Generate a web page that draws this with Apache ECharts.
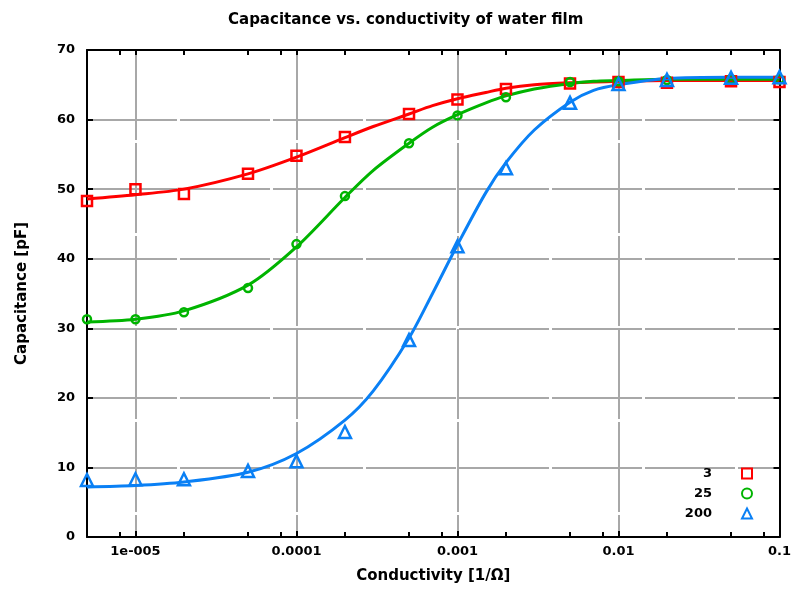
<!DOCTYPE html>
<html>
<head>
<meta charset="utf-8">
<script src="https://cdn.jsdelivr.net/npm/echarts@6/dist/echarts.min.js"></script>
<style>
  html, body { margin: 0; padding: 0; background: #fff; }
  #chart { width: 794px; height: 591px; }
</style>
</head>
<body>
<div id="chart"></div>
<script>
// measured points
const cond = [5e-6, 1e-5, 2e-5, 5e-5, 1e-4, 2e-4, 5e-4, 1e-3, 2e-3, 5e-3, 1e-2, 2e-2, 5e-2, 0.1]
const cap3 = [48.3, 50.0, 49.3, 52.2, 54.8, 57.5, 60.8, 62.9, 64.4, 65.2, 65.4, 65.3, 65.5, 65.4]
const cap25 = [31.3, 31.3, 32.3, 35.8, 42.1, 49.0, 56.6, 60.6, 63.2, 65.4, 65.5, 65.7, 65.8, 65.8]
const cap200 = [8.2, 8.3, 8.3, 9.5, 10.9, 15.1, 28.3, 41.8, 53.0, 62.4, 65.1, 65.7, 66.0, 66.1]

// fitted curves
const fitX = [5e-6, 1e-5, 2e-5, 5e-5, 1e-4, 2e-4, 3e-4, 5e-4, 7e-4, 1e-3, 1.5e-3, 2e-3, 3e-3, 5e-3, 7e-3, 1e-2, 2e-2, 5e-2, 0.1]
const fit3 = [48.6, 49.2, 50.0, 52.2, 54.6, 57.4, 59.0, 60.8, 62.0, 63.0, 63.9, 64.5, 65.0, 65.3, 65.4, 65.5, 65.6, 65.6, 65.6]
const fit25 = [30.9, 31.3, 32.5, 36.2, 41.7, 48.8, 52.7, 56.6, 58.9, 60.7, 62.4, 63.4, 64.4, 65.2, 65.5, 65.6, 65.8, 65.8, 65.8]
const fit200 = [7.2, 7.4, 7.9, 9.3, 12.0, 16.8, 21.0, 28.6, 35.0, 42.0, 49.5, 53.8, 58.5, 62.5, 64.2, 65.0, 65.9, 66.1, 66.1]

const xLabelValues = [1e-5, 1e-4, 1e-3, 1e-2, 0.1]
const xLabelTexts = ['1e-005', '0.0001', '0.001', '0.01', '0.1']
const xMinorTicks = [8e-6, 2e-5, 5e-5, 8e-5, 2e-4, 5e-4, 8e-4, 2e-3, 5e-3, 8e-3, 2e-2, 5e-2, 8e-2]
const xAllTicks = xLabelValues.concat(xMinorTicks)

const RED = '#ff0000'
const GREEN = '#00b400'
const BLUE = '#0a80f5'
const FONT = '"DejaVu Sans", Arial, sans-serif'
const GRID = { color: '#a8a8a8', width: 2, type: [90, 3] }

function pairs(xs, ys) {
  return xs.map((x, i) => [x, ys[i]])
}

function fitLine(name, ys, color) {
  return {
    name: name,
    type: 'line',
    xAxisIndex: 0,
    smooth: 0.3,
    showSymbol: false,
    lineStyle: { width: 3, color: color },
    itemStyle: { color: color },
    data: pairs(fitX, ys),
    z: 2
  }
}

function points(name, ys, color, symbol, size) {
  return {
    name: name,
    type: 'scatter',
    xAxisIndex: 0,
    symbol: symbol,
    symbolSize: size,
    itemStyle: { color: 'rgba(255,255,255,0)', borderColor: color, borderWidth: 2.5, opacity: 1 },
    data: pairs(cond, ys),
    z: 3
  }
}

const chart = echarts.init(document.getElementById('chart'))
chart.setOption({
  animation: false,
  backgroundColor: '#fff',
  textStyle: { fontFamily: FONT },
  title: {
    text: 'Capacitance vs. conductivity of water film',
    left: 223,
    top: 8,
    textStyle: { fontSize: 15, fontWeight: 'bold', color: '#000', fontFamily: FONT }
  },
  legend: {
    data: ['3', '25', '200'],
    orient: 'vertical',
    align: 'right',
    right: 41,
    top: 467,
    padding: 0,
    itemGap: 7,
    itemWidth: 10,
    itemHeight: 10,
    textStyle: {
      fontSize: 13, fontWeight: 'bold', color: '#000', fontFamily: FONT,
      width: 40, align: 'right', padding: [0, 25, 0, 0]
    }
  },
  grid: { left: 87, right: 12, top: 50, bottom: 54 },
  xAxis: [
    {
      type: 'log',
      logBase: 10,
      min: 5e-6,
      max: 0.1,
      name: 'Conductivity [1/Ω]',
      nameLocation: 'middle',
      nameGap: 32,
      nameTextStyle: { fontSize: 15, fontWeight: 'bold', color: '#000' },
      axisLine: { lineStyle: { color: '#000', width: 2 } },
      axisTick: { inside: true, length: 6, lineStyle: { color: '#000', width: 2 } },
      axisLabel: {
        customValues: xLabelValues,
        margin: 8,
        fontSize: 13,
        fontWeight: 'bold',
        color: '#000',
        formatter: function (v) {
          for (let i = 0; i < xLabelValues.length; i++) {
            if (Math.abs(Math.log10(v) - Math.log10(xLabelValues[i])) < 1e-6) return xLabelTexts[i]
          }
          return ''
        }
      },
      splitLine: { show: true, lineStyle: GRID }
    },
    {
      type: 'log',
      logBase: 10,
      min: 5e-6,
      max: 0.1,
      position: 'bottom',
      axisLine: { show: false },
      axisTick: { inside: true, length: 5, customValues: xMinorTicks, lineStyle: { color: '#000', width: 2 } },
      axisLabel: { show: false },
      splitLine: { show: false }
    },
    {
      type: 'log',
      logBase: 10,
      min: 5e-6,
      max: 0.1,
      position: 'top',
      axisLine: { lineStyle: { color: '#000', width: 2 } },
      axisTick: { inside: true, length: 5, customValues: xAllTicks, lineStyle: { color: '#000', width: 2 } },
      axisLabel: { show: false },
      splitLine: { show: false }
    }
  ],
  yAxis: [
    {
      type: 'value',
      min: 0,
      max: 70,
      interval: 10,
      name: 'Capacitance [pF]',
      nameLocation: 'middle',
      nameGap: 57,
      nameTextStyle: { fontSize: 15, fontWeight: 'bold', color: '#000' },
      axisLine: { show: true, lineStyle: { color: '#000', width: 2 } },
      axisTick: { show: true, inside: true, length: 6, lineStyle: { color: '#000', width: 2 } },
      axisLabel: { margin: 12, fontSize: 13, fontWeight: 'bold', color: '#000' },
      splitLine: { show: true, lineStyle: GRID }
    },
    {
      type: 'value',
      min: 0,
      max: 70,
      interval: 10,
      position: 'right',
      axisLine: { show: true, lineStyle: { color: '#000', width: 2 } },
      axisTick: { show: true, inside: true, length: 6, lineStyle: { color: '#000', width: 2 } },
      axisLabel: { show: false },
      splitLine: { show: false }
    }
  ],
  series: [
    fitLine('fit 3', fit3, RED),
    fitLine('fit 25', fit25, GREEN),
    fitLine('fit 200', fit200, BLUE),
    points('3', cap3, RED, 'rect', 10),
    points('25', cap25, GREEN, 'circle', 8),
    points('200', cap200, BLUE, 'triangle', 12)
  ]
})
</script>
</body>
</html>
